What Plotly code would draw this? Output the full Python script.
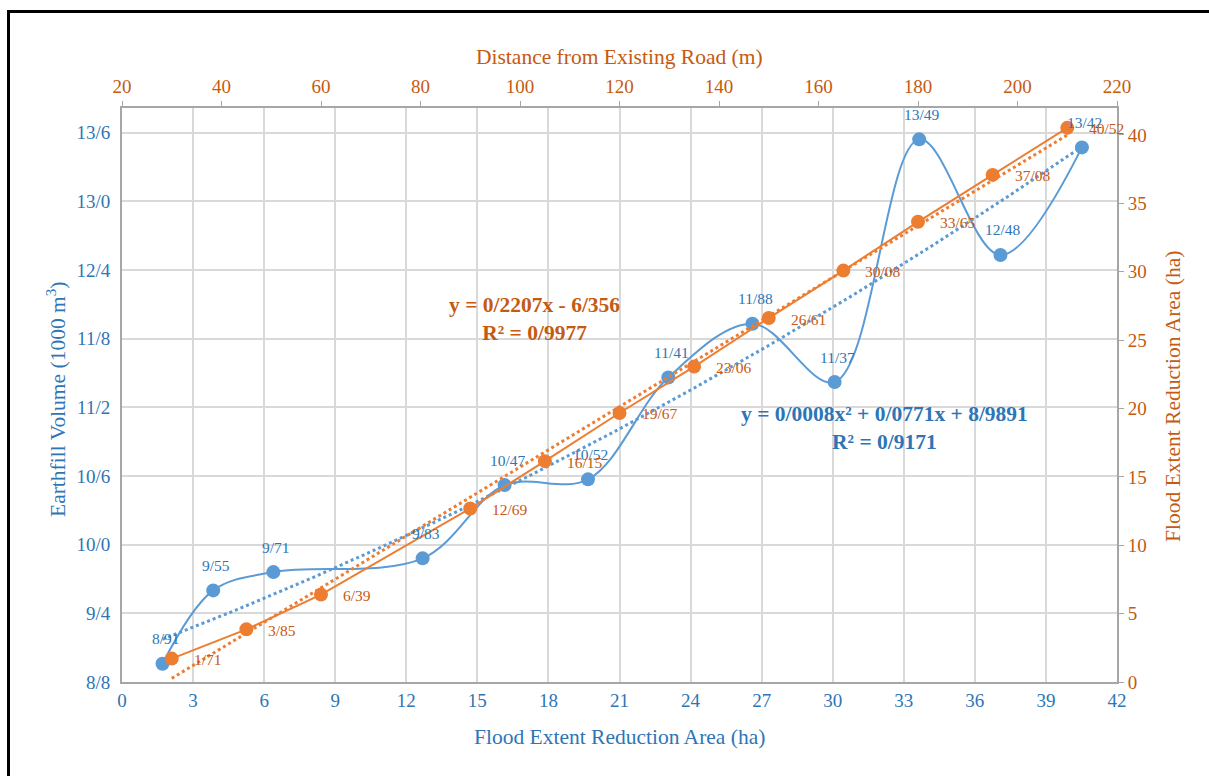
import numpy as np
import plotly.graph_objects as go

# Flood extent reduction area (ha) vs earthfill volume (1000 m3)
area_ha = [1.71, 3.85, 6.39, 12.69, 16.15, 19.67, 23.06, 26.61, 30.08, 33.65, 37.08, 40.52]
earthfill = [8.91, 9.55, 9.71, 9.83, 10.47, 10.52, 11.41, 11.88, 11.37, 13.49, 12.48, 13.42]

# Distance from existing road (m) vs flood extent reduction area (ha)
distance_m = [30, 45, 60, 90, 105, 120, 135, 150, 165, 180, 195, 210]
reduction_ha = [1.71, 3.85, 6.39, 12.69, 16.15, 19.67, 23.06, 26.61, 30.08, 33.65, 37.08, 40.52]

# Trendline coefficients as printed on the chart
poly_coef = [0.0008, 0.0771, 8.9891]   # earthfill = a*x^2 + b*x + c
poly_r2 = 0.9171
lin_coef = [0.2207, -6.356]            # reduction = m*x + k
lin_r2 = 0.9977

# Left axis tick positions and their (one-decimal) labels
left_tickvals = [8.75, 9.35, 9.95, 10.55, 11.15, 11.75, 12.35, 12.95, 13.55]
left_ticktext = ["8/8", "9/4", "10/0", "10/6", "11/2", "11/8", "12/4", "13/0", "13/6"]

BLUE = "#5B9BD5"
BLUE_TXT = "#2E75B6"
ORANGE = "#ED7D31"
ORANGE_TXT = "#C55A11"
GRID = "#D9D9D9"
AXIS = "#A6A6A6"
FONT = "Liberation Serif, Times New Roman, serif"
LABEL_SIZE = 15.5


def fa(v, nd=2):
    """Format a number with '/' as the decimal separator."""
    return f"{v:.{nd}f}".replace(".", "/")


fig = go.Figure()

# Earthfill volume: smoothed line with markers
fig.add_trace(go.Scatter(
    x=area_ha, y=earthfill, mode="lines+markers",
    line=dict(color=BLUE, width=2, shape="spline", smoothing=1.0),
    marker=dict(color=BLUE, size=14),
    xaxis="x", yaxis="y", showlegend=False,
))

# Polynomial trendline for earthfill volume
xp = np.linspace(area_ha[0], area_ha[-1], 200)
yp = np.polyval(poly_coef, xp)
fig.add_trace(go.Scatter(
    x=xp, y=yp, mode="lines",
    line=dict(color=BLUE, width=3, dash="dot"),
    xaxis="x", yaxis="y", showlegend=False, hoverinfo="skip",
))

# Flood extent reduction vs distance: straight line with markers
fig.add_trace(go.Scatter(
    x=distance_m, y=reduction_ha, mode="lines+markers",
    line=dict(color=ORANGE, width=2),
    marker=dict(color=ORANGE, size=14),
    xaxis="x2", yaxis="y2", showlegend=False,
))

# Linear trendline for reduction area
xl = np.array([distance_m[0], distance_m[-1]], dtype=float)
yl = np.polyval(lin_coef, xl)
fig.add_trace(go.Scatter(
    x=xl, y=yl, mode="lines",
    line=dict(color=ORANGE, width=3, dash="dot"),
    xaxis="x2", yaxis="y2", showlegend=False, hoverinfo="skip",
))

# Data labels: above the blue points, to the right of the orange points
for xv, yv in zip(area_ha, earthfill):
    fig.add_annotation(x=xv, y=yv, xref="x", yref="y", text=fa(yv),
                       showarrow=False, xanchor="center", yanchor="middle",
                       xshift=3, yshift=25,
                       font=dict(family=FONT, size=LABEL_SIZE, color=BLUE_TXT))
for xv, yv in zip(distance_m, reduction_ha):
    fig.add_annotation(x=xv, y=yv, xref="x2", yref="y2", text=fa(yv),
                       showarrow=False, xanchor="left", yanchor="middle",
                       xshift=20, yshift=-1,
                       font=dict(family=FONT, size=LABEL_SIZE, color=ORANGE_TXT))

tickfont_blue = dict(family=FONT, size=19, color=BLUE_TXT)
tickfont_orange = dict(family=FONT, size=19, color=ORANGE_TXT)

fig.update_layout(
    width=1209, height=776,
    margin=dict(l=122, r=92, t=108, b=94),
    paper_bgcolor="white", plot_bgcolor="white",
    font=dict(family=FONT),
    xaxis=dict(
        range=[0, 42], tickvals=list(range(0, 43, 3)),
        showgrid=True, gridcolor=GRID, gridwidth=2,
        showline=True, linecolor=AXIS, linewidth=2,
        ticks="", tickfont=tickfont_blue, zeroline=False,
    ),
    yaxis=dict(
        range=[8.75, 13.764], tickvals=left_tickvals, ticktext=left_ticktext,
        showgrid=True, gridcolor=GRID, gridwidth=2,
        showline=True, linecolor=AXIS, linewidth=2,
        ticks="", tickfont=tickfont_blue, zeroline=False, ticklabelstandoff=6,
    ),
    xaxis2=dict(
        range=[20, 220], tickvals=list(range(20, 221, 20)),
        overlaying="x", side="top", anchor="y",
        showgrid=False, showline=True, linecolor=AXIS, linewidth=2,
        ticks="outside", ticklen=5, tickcolor=AXIS, tickwidth=1,
        tickfont=tickfont_orange, zeroline=False,
    ),
    yaxis2=dict(
        range=[0, 41.97], tickvals=list(range(0, 41, 5)),
        overlaying="y", side="right", anchor="x",
        showgrid=False, showline=True, linecolor=AXIS, linewidth=2,
        ticks="outside", ticklen=5, tickcolor=AXIS, tickwidth=1,
        tickfont=tickfont_orange, zeroline=False,
    ),
)

# Axis titles
title_font = 21.5
fig.add_annotation(text="Flood Extent Reduction Area (ha)", xref="paper", yref="paper",
                   x=0.5, y=-0.095, xanchor="center", yanchor="middle", showarrow=False,
                   font=dict(family=FONT, size=title_font, color=BLUE_TXT))
fig.add_annotation(text="Earthfill Volume (1000 m<sup>3</sup>)", xref="paper", yref="paper",
                   x=(56 - 122) / 995, y=(682 - 400) / 574, xanchor="center", yanchor="middle",
                   textangle=-90, showarrow=False,
                   font=dict(family=FONT, size=title_font, color=BLUE_TXT))
fig.add_annotation(text="Distance from Existing Road (m)", xref="paper", yref="paper",
                   x=0.5, y=1.089, xanchor="center", yanchor="middle", showarrow=False,
                   font=dict(family=FONT, size=title_font, color=ORANGE_TXT))
fig.add_annotation(text="Flood Extent Reduction Area (ha)", xref="paper", yref="paper",
                   x=(1173 - 122) / 995, y=(682 - 397) / 574, xanchor="center", yanchor="middle",
                   textangle=-90, showarrow=False,
                   font=dict(family=FONT, size=title_font, color=ORANGE_TXT))

# Trendline equations
fig.add_annotation(
    text=f"<b>y = {fa(lin_coef[0], 4)}x - {fa(-lin_coef[1], 3)}<br>R² = {fa(lin_r2, 4)}</b>",
    xref="paper", yref="paper", x=(534 - 122) / 995, y=(682 - 319) / 574,
    xanchor="center", yanchor="middle", showarrow=False, align="center",
    font=dict(family=FONT, size=21.5, color=ORANGE_TXT),
)
fig.add_annotation(
    text=(f"<b>y = {fa(poly_coef[0], 4)}x² + {fa(poly_coef[1], 4)}x + {fa(poly_coef[2], 4)}"
          f"<br>R² = {fa(poly_r2, 4)}</b>"),
    xref="paper", yref="paper", x=(884 - 122) / 995, y=(682 - 428) / 574,
    xanchor="center", yanchor="middle", showarrow=False, align="center",
    font=dict(family=FONT, size=21.5, color=BLUE_TXT),
)

# Outer frame
fig.add_shape(type="rect", xref="paper", yref="paper",
              x0=(8.5 - 122) / 995, x1=1.2, y0=-0.3, y1=(682 - 11.5) / 574,
              line=dict(color="black", width=3), fillcolor="rgba(0,0,0,0)", layer="above")

fig.write_html("out.html")
